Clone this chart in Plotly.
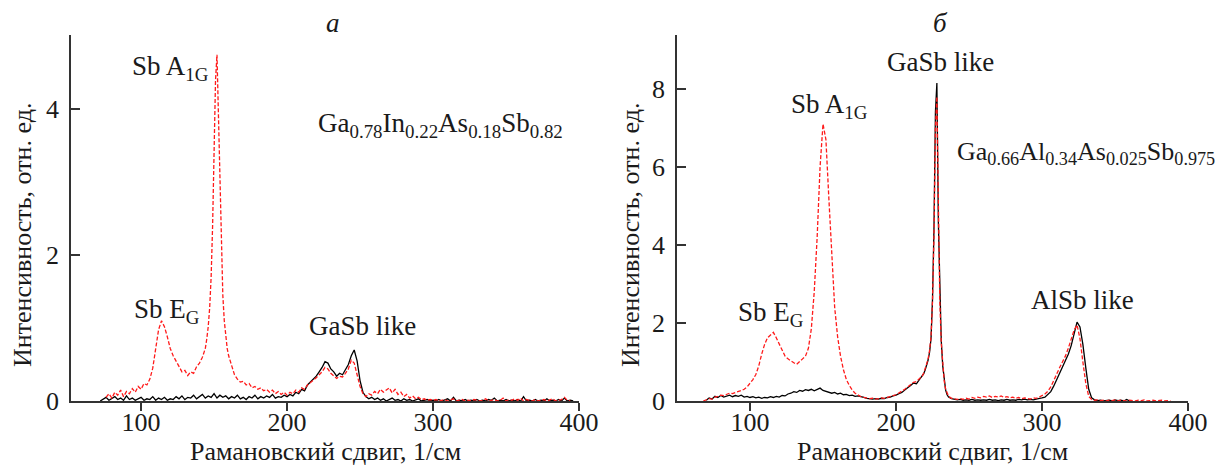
import plotly.graph_objects as go

# ---------------- data ----------------
# panel a: Ga0.78In0.22As0.18Sb0.82
A_RED_X = list(range(76, 144, 2)) + list(range(144, 161, 1)) + list(range(162, 396, 2))
A_RED_Y = [
    0.05, 0.10, 0.04, 0.12, 0.08, 0.15, 0.06, 0.13, 0.10, 0.17, 0.12, 0.20, 0.16, 0.24, 0.22, 0.30,
    0.45, 0.75, 0.98, 1.10, 1.02, 0.88, 0.72, 0.62, 0.55, 0.46, 0.40, 0.42, 0.35, 0.40, 0.38, 0.47,
    0.52, 0.60,
    0.72, 0.85, 1.02, 1.28, 1.70, 2.40, 3.40, 4.40, 4.75, 3.90, 2.80, 2.00, 1.45, 1.10, 0.88, 0.72, 0.62,
    0.48, 0.36, 0.30, 0.26, 0.27, 0.22, 0.24, 0.18, 0.20, 0.16, 0.18, 0.14, 0.16, 0.12, 0.15, 0.10,
    0.13, 0.09, 0.12, 0.08, 0.12, 0.10, 0.15, 0.12, 0.18, 0.16, 0.22, 0.25, 0.28, 0.32, 0.36, 0.40,
    0.46, 0.44, 0.38, 0.35, 0.31, 0.34, 0.33, 0.38, 0.44, 0.56, 0.52, 0.36, 0.20, 0.10, 0.06, 0.10,
    0.08, 0.13, 0.10, 0.16, 0.12, 0.15, 0.18, 0.11, 0.16, 0.09, 0.12, 0.06, 0.09, 0.04, 0.07, 0.03,
    0.05, 0.02, 0.03, 0.01, 0.02, 0.01, 0.02, 0.00, 0.01, 0.02, 0.00, 0.01, 0.03, 0.00, 0.01, 0.02,
    0.00, 0.01, 0.00, 0.02, 0.01, 0.00, 0.01, 0.03, 0.00, 0.01, 0.02, 0.00, 0.01, 0.04, 0.00, 0.02,
    0.01, 0.03, 0.01, 0.04, 0.00, 0.02, 0.01, 0.00, 0.02, 0.00, 0.01, 0.02, 0.00, 0.01, 0.03, 0.00,
    0.01, 0.02, 0.05, 0.01, 0.00,
]
A_BLK_X = list(range(72, 398, 2))
A_BLK_Y = [
    0.00, 0.02, 0.05, 0.01, 0.03, 0.06, 0.02, 0.04, 0.01, 0.07, 0.02, 0.04, 0.01, 0.03, 0.05, 0.01,
    0.03, 0.02, 0.06, 0.01, 0.04, 0.02, 0.05, 0.01, 0.03, 0.02, 0.06, 0.03, 0.07, 0.02, 0.05, 0.04,
    0.08, 0.03, 0.06, 0.09, 0.04, 0.07, 0.05, 0.10, 0.04, 0.08, 0.05, 0.07, 0.03, 0.06, 0.04, 0.08,
    0.03, 0.05, 0.02, 0.06, 0.04, 0.08, 0.03, 0.06, 0.04, 0.07, 0.05, 0.09, 0.04, 0.06, 0.05, 0.08,
    0.06, 0.09, 0.07, 0.12, 0.10, 0.16, 0.14, 0.22, 0.26, 0.30, 0.34, 0.40, 0.46, 0.54, 0.52, 0.44,
    0.40, 0.34, 0.38, 0.36, 0.44, 0.50, 0.62, 0.70, 0.55, 0.28, 0.12, 0.06, 0.03, 0.05, 0.02, 0.04,
    0.01, 0.03, 0.00, 0.02, 0.04, 0.01, 0.02, 0.00, 0.03, 0.01, 0.02, 0.00, 0.01, 0.03, 0.00, 0.01,
    0.02, 0.00, 0.01, 0.00, 0.02, 0.00, 0.01, 0.03, 0.00, 0.05, 0.00, 0.01, 0.00, 0.02, 0.00, 0.01,
    0.00, 0.02, 0.00, 0.01, 0.00, 0.02, 0.01, 0.04, 0.00, 0.01, 0.00, 0.02, 0.00, 0.01, 0.00, 0.02,
    0.00, 0.06, 0.00, 0.01, 0.00, 0.02, 0.00, 0.01, 0.00, 0.03, 0.00, 0.01, 0.00, 0.02, 0.00, 0.04,
    0.00, 0.01, 0.00,
]

# panel b: Ga0.66Al0.34As0.025Sb0.975
B_RED_X = list(range(68, 219, 2)) + list(range(219, 237, 1)) + list(range(238, 391, 2))
B_RED_Y = [
    0.00, 0.03, 0.06, 0.05, 0.10, 0.12, 0.15, 0.14, 0.18, 0.20, 0.19, 0.22, 0.24, 0.27, 0.30, 0.36,
    0.45, 0.55, 0.68, 0.90, 1.20, 1.45, 1.62, 1.70, 1.76, 1.62, 1.45, 1.30, 1.15, 1.08, 1.02, 0.98,
    0.94, 1.00, 1.08, 1.15, 1.35, 1.85, 2.80, 4.20, 6.00, 7.10, 6.70, 5.20, 3.60, 2.40, 1.65, 1.15,
    0.80, 0.55, 0.40, 0.28, 0.20, 0.15, 0.11, 0.09, 0.08, 0.06, 0.07, 0.05, 0.06, 0.08, 0.07, 0.10,
    0.11, 0.14, 0.16, 0.20, 0.24, 0.30, 0.36, 0.42, 0.48, 0.50, 0.56, 0.64,
    0.72, 0.82, 0.95, 1.08, 1.30, 1.65, 2.55, 4.20, 7.00, 7.80, 4.50, 2.55, 1.50, 0.90, 0.52, 0.30,
    0.18, 0.12,
    0.07, 0.05, 0.04, 0.06, 0.04, 0.07, 0.05, 0.09, 0.07, 0.10, 0.08, 0.12, 0.10, 0.13, 0.09, 0.12,
    0.10, 0.13, 0.09, 0.11, 0.08, 0.10, 0.07, 0.09, 0.06, 0.08, 0.07, 0.05, 0.08, 0.07, 0.10, 0.13,
    0.18, 0.25, 0.36, 0.52, 0.70, 0.85, 1.00, 1.15, 1.35, 1.60, 1.82, 1.95, 1.60, 1.00, 0.45, 0.12,
    0.04, 0.02, 0.03, 0.01, 0.02, 0.00, 0.02, 0.01, 0.03, 0.00, 0.02, 0.01, 0.00, 0.02, 0.01, 0.00,
    0.02, 0.01, 0.03, 0.00, 0.01, 0.02, 0.00, 0.01, 0.02, 0.00, 0.01, 0.00,
]
B_BLK_X = list(range(70, 219, 2)) + list(range(219, 237, 1)) + list(range(238, 361, 2))
B_BLK_Y = [
    0.02, 0.08, 0.05, 0.12, 0.09, 0.14, 0.10, 0.13, 0.15, 0.11, 0.14, 0.12, 0.15, 0.10, 0.12, 0.09,
    0.11, 0.08, 0.10, 0.07, 0.09, 0.08, 0.11, 0.09, 0.12, 0.10, 0.14, 0.13, 0.18, 0.20, 0.24, 0.22,
    0.27, 0.25, 0.29, 0.27, 0.30, 0.26, 0.29, 0.33, 0.27, 0.25, 0.23, 0.20, 0.22, 0.18, 0.20, 0.16,
    0.17, 0.14, 0.15, 0.12, 0.13, 0.10, 0.09, 0.07, 0.06, 0.05, 0.06, 0.05, 0.07, 0.06, 0.09, 0.10,
    0.13, 0.15, 0.19, 0.22, 0.28, 0.33, 0.40, 0.46, 0.44, 0.55, 0.64,
    0.70, 0.80, 0.92, 1.05, 1.25, 1.60, 2.60, 4.40, 7.40, 8.15, 4.60, 2.60, 1.55, 0.90, 0.50, 0.28,
    0.16, 0.10,
    0.06, 0.04, 0.03, 0.04, 0.02, 0.03, 0.02, 0.04, 0.02, 0.03, 0.02, 0.03, 0.02, 0.04, 0.02, 0.03,
    0.01, 0.03, 0.02, 0.04, 0.02, 0.03, 0.02, 0.04, 0.03, 0.05, 0.03, 0.04, 0.03, 0.05, 0.06, 0.08,
    0.10, 0.16, 0.24, 0.38, 0.55, 0.72, 0.88, 1.02, 1.20, 1.42, 1.70, 2.02, 1.90, 1.45, 0.85, 0.30,
    0.08, 0.03, 0.01, 0.02, 0.00, 0.01, 0.02, 0.00, 0.03, 0.01, 0.02, 0.00, 0.04, 0.00,
]

A_XTICKS = [100, 200, 300, 400]
A_YTICKS = [0, 2, 4]
B_XTICKS = [100, 200, 300, 400]
B_YTICKS = [0, 2, 4, 6, 8]

X_TITLE = "Рамановский сдвиг, 1/см"
Y_TITLE = "Интенсивность, отн. ед."

# ---------------- figure ----------------
# the page body adds an 8 px margin, so the figure is drawn 8 px smaller
OFF = 8
W, H = 1226 - OFF, 469 - OFF
FONT = "Liberation Serif"
RED = "#ff1a1a"
BLACK = "#000000"


def px(x):
    return (x - OFF) / W


def py(y):
    return 1 - (y - OFF) / H


fig = go.Figure()
fig.add_trace(go.Scatter(x=A_BLK_X, y=A_BLK_Y, mode="lines", line=dict(color=BLACK, width=1.3),
                         xaxis="x", yaxis="y", showlegend=False))
fig.add_trace(go.Scatter(x=A_RED_X, y=A_RED_Y, mode="lines",
                         line=dict(color=RED, width=1.3, dash="4px,2px"),
                         xaxis="x", yaxis="y", showlegend=False))
fig.add_trace(go.Scatter(x=B_BLK_X, y=B_BLK_Y, mode="lines", line=dict(color=BLACK, width=1.3),
                         xaxis="x2", yaxis="y2", showlegend=False))
fig.add_trace(go.Scatter(x=B_RED_X, y=B_RED_Y, mode="lines",
                         line=dict(color=RED, width=1.3, dash="4px,2px"),
                         xaxis="x2", yaxis="y2", showlegend=False))

ydom = [py(401), py(35)]
axis_common = dict(showline=True, linecolor="#333333", linewidth=1.5, showgrid=False,
                   zeroline=False, tickcolor="#333333", tickwidth=1.5,
                   tickfont=dict(family=FONT, size=26, color="#1a1a1a"), automargin=False)

fig.update_layout(
    width=W, height=H,
    margin=dict(l=0, r=0, t=0, b=0),
    paper_bgcolor="white", plot_bgcolor="white",
    font=dict(family=FONT),
    xaxis=dict(domain=[px(71), px(579)], range=[52, 400], anchor="y",
               tickvals=A_XTICKS, ticks="outside", ticklen=8, ticklabelstandoff=-11, **axis_common),
    yaxis=dict(domain=ydom, range=[0, 5.02], anchor="x",
               tickvals=A_YTICKS, ticks="inside", ticklen=9, ticklabelstandoff=5, **axis_common),
    xaxis2=dict(domain=[px(677), px(1188)], range=[50, 400], anchor="y2",
                tickvals=B_XTICKS, ticks="outside", ticklen=8, ticklabelstandoff=-11, **axis_common),
    yaxis2=dict(domain=ydom, range=[0, 9.38], anchor="x2",
                tickvals=B_YTICKS, ticks="inside", ticklen=9, ticklabelstandoff=5, **axis_common),
)

notes = [
    ("<i>а</i>", 333, 23, "center", 27),
    ("<i>б</i>", 940, 23, "center", 27),
    ("Sb A<sub>1G</sub>", 170, 68, "center", 27),
    ("Ga<sub>0.78</sub>In<sub>0.22</sub>As<sub>0.18</sub>Sb<sub>0.82</sub>", 440, 125, "center", 27),
    ("Sb E<sub>G</sub>", 167, 311, "center", 27),
    ("GaSb like", 362, 326, "center", 27),
    ("GaSb like", 940, 62, "center", 27),
    ("Sb A<sub>1G</sub>", 829, 106, "center", 27),
    ("Ga<sub>0.66</sub>Al<sub>0.34</sub>As<sub>0.025</sub>Sb<sub>0.975</sub>", 1217, 153, "right", 26),
    ("Sb E<sub>G</sub>", 771, 314, "center", 27),
    ("AlSb like", 1082, 300, "center", 27),
]
for text, x, y, anchor, size in notes:
    fig.add_annotation(text=text, x=px(x), y=py(y), xref="paper", yref="paper",
                       xanchor=anchor, yanchor="middle", showarrow=False,
                       font=dict(family=FONT, size=size, color="#1a1a1a"))

title_font = dict(family=FONT, size=26, color="#1a1a1a")
fig.add_annotation(text=X_TITLE, x=px(325), y=py(451), xref="paper", yref="paper",
                   xanchor="center", yanchor="middle", showarrow=False, font=title_font)
fig.add_annotation(text=X_TITLE, x=px(932), y=py(451), xref="paper", yref="paper",
                   xanchor="center", yanchor="middle", showarrow=False, font=title_font)
fig.add_annotation(text=Y_TITLE, x=px(22), y=py(235), xref="paper", yref="paper",
                   xanchor="center", yanchor="middle", showarrow=False, font=title_font,
                   textangle=-90)
fig.add_annotation(text=Y_TITLE, x=px(630), y=py(235), xref="paper", yref="paper",
                   xanchor="center", yanchor="middle", showarrow=False, font=title_font,
                   textangle=-90)

fig.write_html("out.html")
